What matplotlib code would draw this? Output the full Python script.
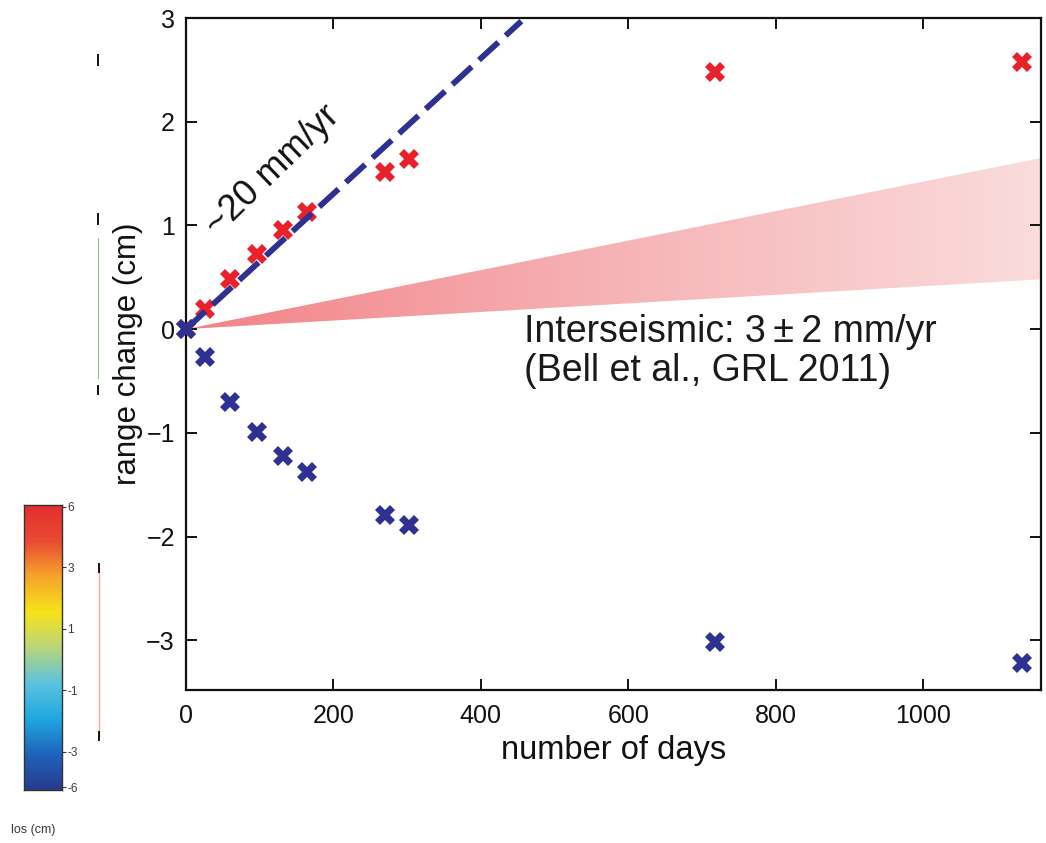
import numpy as np
import matplotlib

matplotlib.use("Agg")

import matplotlib.pyplot as plt
from matplotlib.colors import LinearSegmentedColormap
from matplotlib.lines import Line2D
from matplotlib.patches import Polygon

plt.rcParams["font.family"] = ["Liberation Sans", "DejaVu Sans"]

# range change of the two look directions (cm) against number of days
days = [0, 26, 60, 96, 131, 164, 270, 303, 718, 1134]
red_cm = [0.0, 0.19, 0.48, 0.72, 0.96, 1.13, 1.52, 1.64, 2.48, 2.58]
blue_cm = [0.0, -0.27, -0.70, -0.99, -1.22, -1.38, -1.79, -1.89, -3.02, -3.22]

# ~20 mm/yr trend line
trend_days = [0, 455]
trend_cm = [0.0, 2.97]

# interseismic wedge (3 +/- 2 mm/yr)
wedge_days = [0, 1160]
wedge_upper = [0.0, 1.65]
wedge_lower = [0.0, 0.48]

xticks = [0, 200, 400, 600, 800, 1000]
yticks = [-3, -2, -1, 0, 1, 2, 3]

cbar_labels = ["6", "3", "1", "-1", "-3", "-6"]
cbar_label_pos = [0.993, 0.782, 0.565, 0.350, 0.133, 0.010]

RED = "#e8212b"
BLUE = "#2e3192"

fig = plt.figure(figsize=(10.46, 8.43), dpi=100)
ax = fig.add_axes([0.1778, 0.1815, 0.8174, 0.7971])

# gradient wedge
wedge_cmap = LinearSegmentedColormap.from_list("wedge", ["#f28286", "#f6b3b6", "#fbdcdc"])
grad = np.linspace(0, 1, 256)[None, :]
im = ax.imshow(grad, cmap=wedge_cmap, aspect="auto",
               extent=[wedge_days[0], wedge_days[1], 0, max(wedge_upper)],
               origin="lower", zorder=1)
poly = Polygon([(wedge_days[0], wedge_upper[0]), (wedge_days[1], wedge_upper[1]),
                (wedge_days[1], wedge_lower[1])], closed=True,
               facecolor="none", edgecolor="none", transform=ax.transData)
ax.add_patch(poly)
im.set_clip_path(poly)

ax.plot(trend_days, trend_cm, color=BLUE, linewidth=4.2, dashes=(4.5, 1.7),
        solid_capstyle="butt", dash_capstyle="butt", zorder=4)

ax.plot(days, red_cm, linestyle="none", marker="X", markersize=14,
        color=RED, markeredgewidth=0, zorder=3, clip_on=False)
ax.plot(days, blue_cm, linestyle="none", marker="X", markersize=14,
        color=BLUE, markeredgewidth=0, zorder=3, clip_on=False)

ax.text(118, 1.53, "~20 mm/yr", rotation=44, rotation_mode="anchor",
        ha="center", va="center", fontsize=26, color="#111111", zorder=5)
ax.text(459, 0.15, "Interseismic: 3\u2009\u00b1\u20092 mm/yr\n(Bell et al., GRL 2011)",
        ha="left", va="top", fontsize=27, color="#1a1a1a", linespacing=1.14, zorder=5)

ax.set_xlim(0, 1160)
ax.set_ylim(-3.48, 3)
ax.set_xticks(xticks)
ax.set_yticks(yticks)
ax.tick_params(direction="in", length=8, width=1.4, top=True, right=True,
               labelsize=18, colors="#111111")
ax.tick_params(axis="x", pad=10)
ax.tick_params(axis="y", pad=8)
for sp in ax.spines.values():
    sp.set_linewidth(1.6)
    sp.set_color("#111111")
ax.set_xlabel("number of days", fontsize=23.5, labelpad=5, color="#111111")
ax.set_ylabel("range change (cm)", fontsize=22.5, labelpad=2, color="#111111")

# colour bar inset
cax = fig.add_axes([0.023, 0.063, 0.036, 0.338])
cbar_cmap = LinearSegmentedColormap.from_list(
    "los", ["#283a8e", "#1f64bd", "#20a9df", "#5cc3df", "#b9d67a", "#f7e31a",
            "#f5a52a", "#ea4a33", "#e2302f"])
cax.imshow(np.linspace(0, 1, 256)[:, None], cmap=cbar_cmap, aspect="auto",
           extent=[0, 1, 0, 1], origin="lower")
cax.set_xticks([])
cax.yaxis.tick_right()
cax.set_yticks(cbar_label_pos)
cax.set_yticklabels(cbar_labels)
cax.tick_params(axis="y", length=3, width=0.8, labelsize=8.5, pad=1, colors="#3a3a3a")
for sp in cax.spines.values():
    sp.set_linewidth(1.0)
    sp.set_color("#333333")
fig.text(0.032, 0.012, "los (cm)", fontsize=9, ha="center", color="#3a3a3a")

# leftover marks between the panels
def vmark(x, y0, y1, color="#111111", lw=1.4):
    fig.add_artist(Line2D([x / 1046, x / 1046], [1 - y0 / 843, 1 - y1 / 843],
                          color=color, linewidth=lw))

vmark(98, 55, 65)
vmark(98, 214, 224)
vmark(98, 386, 394)
vmark(98, 238, 378, color="#8ac08a", lw=0.8)
vmark(99, 568, 736, color="#f4a3a3", lw=1.0)
vmark(99, 564, 572)
vmark(99, 732, 740)

fig.savefig("out.png", dpi=100, facecolor="white")
